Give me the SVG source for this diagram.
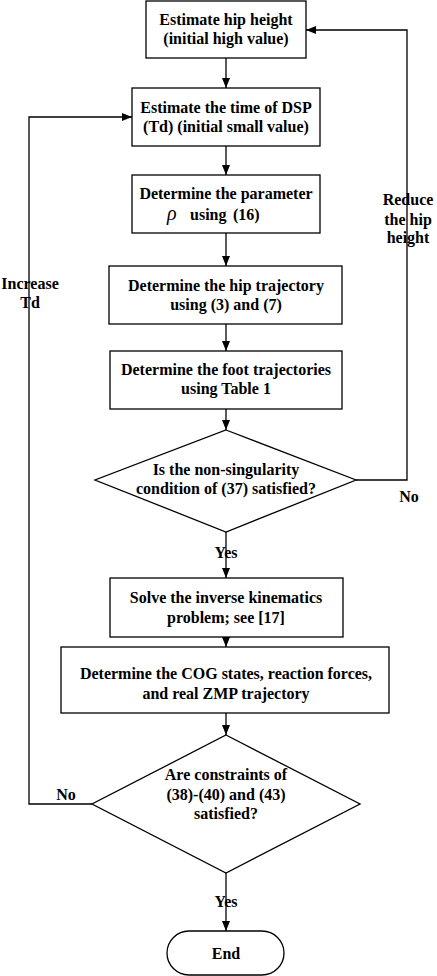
<svg xmlns="http://www.w3.org/2000/svg" width="437" height="976" viewBox="0 0 437 976">
<defs>
<style>
.n{fill:#fff;stroke:#000;stroke-width:1.3}
.t{font-family:"Liberation Serif","Times New Roman",serif;font-weight:bold;font-size:16px;fill:#000;text-anchor:middle}
.c{fill:none;stroke:#000;stroke-width:1.3}
</style>
<marker id="ah" viewBox="0 0 10 8" refX="10" refY="4" markerWidth="10" markerHeight="8" markerUnits="userSpaceOnUse" orient="auto">
<path d="M0,0 L10,4 L0,8 Z" fill="#000"/>
</marker>
</defs>
<rect width="437" height="976" fill="#fff"/>
<g id="connectors">
<line class="c" x1="226" y1="58" x2="226" y2="88" marker-end="url(#ah)"/>
<line class="c" x1="226" y1="146" x2="226" y2="175" marker-end="url(#ah)"/>
<line class="c" x1="226" y1="233" x2="226" y2="266" marker-end="url(#ah)"/>
<line class="c" x1="226" y1="324" x2="226" y2="351" marker-end="url(#ah)"/>
<line class="c" x1="226" y1="409" x2="226" y2="430" marker-end="url(#ah)"/>
<line class="c" x1="226" y1="532" x2="226" y2="578" marker-end="url(#ah)"/>
<line class="c" x1="226" y1="637" x2="226" y2="647" marker-end="url(#ah)"/>
<line class="c" x1="226" y1="713" x2="226" y2="735" marker-end="url(#ah)"/>
<line class="c" x1="226" y1="873" x2="226" y2="931" marker-end="url(#ah)"/>
<polyline class="c" points="356,480 407,480 407,30 306,30" marker-end="url(#ah)"/>
<polyline class="c" points="92,804 29,804 29,117 132,117" marker-end="url(#ah)"/>
<text class="t" x="408" y="205">Reduce</text>
<text class="t" x="408" y="225">the hip</text>
<text class="t" x="408" y="243">height</text>
<text class="t" x="30" y="289">Increase</text>
<text class="t" x="30" y="308">Td</text>
<text class="t" x="409" y="502">No</text>
<text class="t" x="226" y="558">Yes</text>
<text class="t" x="66" y="800">No</text>
<text class="t" x="226" y="907">Yes</text>
</g>
<g id="n1">
<rect class="n" x="146" y="1" width="160" height="57"/>
<text class="t" x="226" y="25">Estimate hip height</text>
<text class="t" x="226" y="44">(initial high value)</text>
</g>
<g id="n2">
<rect class="n" x="132" y="88" width="188" height="58"/>
<text class="t" x="226" y="113">Estimate the time of DSP</text>
<text class="t" x="226" y="132">(Td) (initial small value)</text>
</g>
<g id="n3">
<rect class="n" x="132" y="175" width="188" height="58"/>
<text class="t" x="226" y="199">Determine the parameter</text>
<text class="t" x="167" y="220" style="text-anchor:start"><tspan font-style="italic" font-weight="normal" font-size="20">ρ</tspan><tspan x="190">using</tspan><tspan x="233">(16)</tspan></text>
</g>
<g id="n4">
<rect class="n" x="109" y="266" width="233" height="58"/>
<text class="t" x="226" y="291">Determine the hip trajectory</text>
<text class="t" x="226" y="310">using  (3) and (7)</text>
</g>
<g id="n5">
<rect class="n" x="110" y="351" width="232" height="58"/>
<text class="t" x="226" y="375">Determine the foot trajectories</text>
<text class="t" x="226" y="394">using  Table 1</text>
</g>
<g id="d1">
<polygon class="n" points="226,430 356,480 226,532 95,480"/>
<text class="t" x="226" y="475">Is the non-singularity</text>
<text class="t" x="226" y="494">condition of (37) satisfied?</text>
</g>
<g id="n6">
<rect class="n" x="110" y="578" width="233" height="59"/>
<text class="t" x="226" y="603">Solve the inverse kinematics</text>
<text class="t" x="226" y="623">problem; see [17]</text>
</g>
<g id="n7">
<rect class="n" x="61" y="647" width="328" height="66"/>
<text class="t" x="226" y="679">Determine the COG states, reaction forces,</text>
<text class="t" x="226" y="699">and real ZMP trajectory</text>
</g>
<g id="d2">
<polygon class="n" points="226,735 360,804 226,873 92,804"/>
<text class="t" x="226" y="780">Are constraints of</text>
<text class="t" x="226" y="800">(38)-(40) and (43)</text>
<text class="t" x="226" y="819">satisfied?</text>
</g>
<g id="end">
<rect class="n" x="167" y="931" width="117" height="44" rx="22" ry="22"/>
<text class="t" x="226" y="959">End</text>
</g>
</svg>
